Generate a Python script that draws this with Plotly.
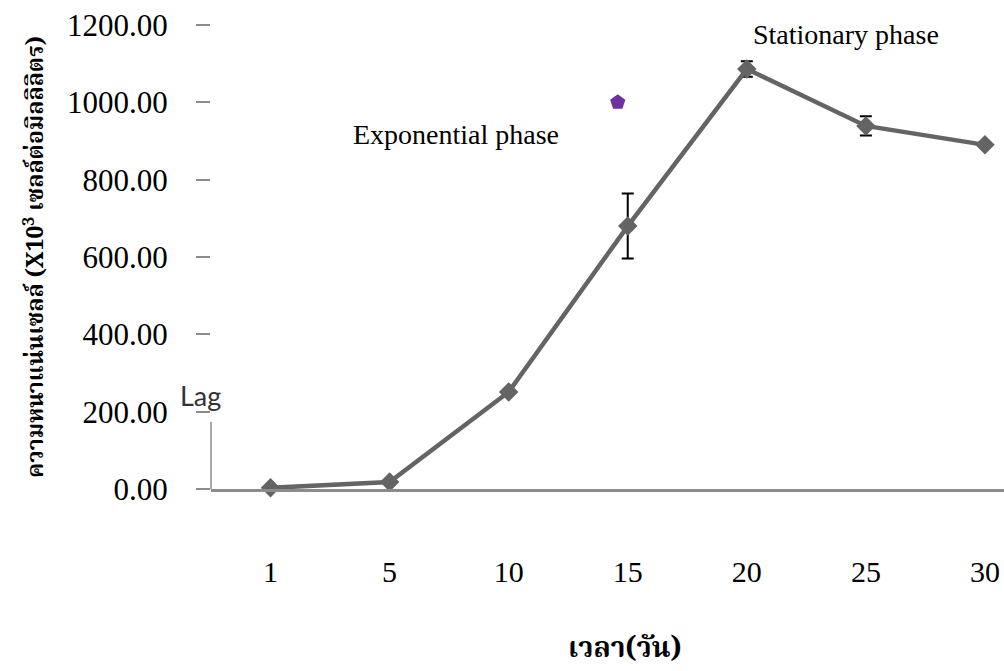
import plotly.graph_objects as go

# Cell density over culture time
days = ["1", "5", "10", "15", "20", "25", "30"]
density = [3, 18, 251, 680, 1086, 939, 890]
density_err = [0, 0, 0, 84, 20, 25, 6]

# Single highlighted point near the exponential phase
highlight_x = [2.916]
highlight_y = [1000]

y_ticks = [0, 200, 400, 600, 800, 1000, 1200]
y_tick_text = ["%.2f" % v for v in y_ticks]

serif = "Liberation Serif, Times New Roman, serif"
thai = "Noto Serif Thai, Noto Sans Thai, Loma, Garuda, DejaVu Sans, sans-serif"

fig = go.Figure()

fig.add_trace(go.Scatter(
    x=list(range(len(days))),
    y=density,
    mode="lines+markers",
    line=dict(color="#646464", width=4.5),
    marker=dict(symbol="diamond", size=15, color="#646464"),
    error_y=dict(type="data", array=density_err, visible=True,
                 color="#000000", thickness=2, width=6),
    cliponaxis=False,
    showlegend=False,
))

fig.add_trace(go.Scatter(
    x=highlight_x,
    y=highlight_y,
    mode="markers",
    marker=dict(symbol="pentagon", size=16, color="#7030A0"),
    showlegend=False,
))

# Lag phase marker line
fig.add_shape(type="line", xref="paper", yref="y",
              x0=0, x1=0, y0=0, y1=173,
              line=dict(color="#8c8c8c", width=1.5))

fig.add_annotation(text="Lag", xref="paper", yref="y", x=-0.042, y=243,
                   showarrow=False,
                   font=dict(family="Lato, Roboto, sans-serif", size=27, color="#333333"))
fig.add_annotation(text="Exponential phase", xref="x", yref="y", x=1.56, y=918,
                   showarrow=False,
                   font=dict(family=serif, size=28, color="#000000"))
fig.add_annotation(text="Stationary phase", xref="x", yref="y", x=4.83, y=1175,
                   showarrow=False,
                   font=dict(family=serif, size=28, color="#000000"))

# x-axis title, sitting slightly right of the plot centre
fig.add_annotation(text="<b>เวลา(วัน)</b>", xref="paper", yref="paper",
                   x=0.522, y=-0.345, yanchor="middle", showarrow=False,
                   font=dict(family=thai, size=28, color="#000000"))

fig.update_layout(
    width=1004, height=671,
    margin=dict(l=211, r=0, t=25, b=182),
    plot_bgcolor="white",
    paper_bgcolor="white",
    xaxis=dict(
        range=[-0.5, 6.16],
        tickvals=list(range(len(days))),
        ticktext=days,
        showgrid=False, zeroline=False,
        showline=True, linecolor="#8c8c8c", linewidth=2.5,
        ticks="",
        ticklabelstandoff=54,
        tickfont=dict(family=serif, size=30, color="#000000"),
    ),
    yaxis=dict(
        range=[0, 1200],
        tickvals=y_ticks,
        ticktext=y_tick_text,
        showgrid=False, zeroline=False, showline=False,
        ticks="outside", ticklen=14, tickcolor="#8c8c8c", tickwidth=2,
        ticklabelstandoff=22,
        tickfont=dict(family=serif, size=31, color="#000000"),
        title=dict(text="<b>ความหนาแน่นเซลล์ (X10<sup>3</sup> เซลล์ต่อมิลลิลิตร)</b>",
                   standoff=16,
                   font=dict(family=thai, size=23, color="#000000")),
    ),
)

fig.write_html("out.html")
